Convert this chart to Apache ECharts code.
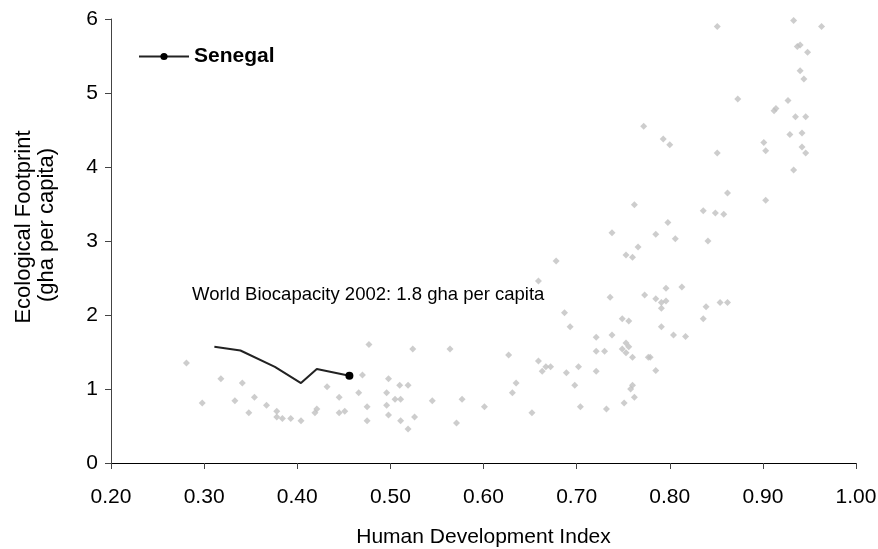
<!DOCTYPE html>
<html>
<head>
<meta charset="utf-8">
<title>Ecological Footprint vs HDI</title>
<script src="https://cdn.jsdelivr.net/npm/echarts@6/dist/echarts.min.js"></script>
<style>
    html, body { margin: 0; padding: 0; background: #fff; }
    #chart { width: 878px; height: 549px; }
</style>
</head>
<body>
<div id="chart"></div>
<script>
'use strict'

// countries (grey diamonds)
var countryHdi = [0.281,0.318,0.298,0.341,0.333,0.354,0.348,0.367,0.378,0.378,
    0.384,0.393,0.404,0.421,0.419,0.432,0.445,0.445,0.451,0.477,
    0.470,0.466,0.475,0.475,0.498,0.496,0.510,0.519,0.505,0.511,
    0.496,0.498,0.511,0.519,0.524,0.526,0.545,0.564,0.577,0.571,
    0.601,0.627,0.635,0.631,0.652,0.659,0.678,0.659,0.663,0.667,
    0.672,0.687,0.693,0.689,0.702,0.698,0.704,0.721,0.721,0.730,
    0.721,0.732,0.736,0.738,0.749,0.756,0.749,0.753,0.756,0.753,
    0.760,0.760,0.758,0.762,0.751,0.753,0.760,0.773,0.777,0.779,
    0.766,0.738,0.762,0.851,0.903,0.946,0.933,0.862,0.903,0.836,
    0.849,0.858,0.798,0.785,0.806,0.841,0.813,0.796,0.785,0.791,
    0.796,0.791,0.839,0.854,0.862,0.836,0.791,0.804,0.817,0.785,
    0.851,0.933,0.963,0.937,0.940,0.948,0.940,0.944,0.873,0.927,
    0.912,0.914,0.935,0.946,0.772,0.793,0.800,0.901,0.929,0.942,0.942];
var countryFootprint = [1.35,1.14,0.81,1.08,0.84,0.89,0.68,0.78,0.70,0.62,
    0.60,0.60,0.57,0.73,0.68,1.03,0.89,0.68,0.70,1.60,
    1.19,0.95,0.76,0.57,1.14,0.95,1.05,1.05,0.86,0.86,
    0.78,0.65,0.57,0.46,1.54,0.62,0.84,1.54,0.86,0.54,
    0.76,1.46,1.08,0.95,0.68,2.46,2.73,1.38,1.24,1.30,
    1.30,2.03,1.84,1.22,1.30,1.05,0.76,1.70,1.51,1.51,
    1.24,0.73,2.24,1.73,1.95,1.92,1.54,1.62,1.57,1.49,
    1.43,1.05,1.00,0.89,0.81,2.81,2.78,2.27,1.43,1.43,
    2.92,3.11,3.49,4.19,4.22,4.19,3.96,3.65,3.55,3.41,
    3.38,3.36,3.25,3.09,3.03,3.00,2.38,2.36,2.22,2.17,
    2.19,2.09,2.11,2.17,2.17,1.95,1.84,1.73,1.71,1.25,
    5.90,5.98,5.90,5.63,5.65,5.55,5.30,5.19,4.92,4.90,
    4.76,4.79,4.68,4.68,4.55,4.38,4.30,4.33,4.44,4.46,4.27];

// Senegal over time
var senegalHdi = [0.311, 0.339, 0.376, 0.404, 0.421, 0.456];
var senegalFootprint = [1.57, 1.52, 1.30, 1.08, 1.27, 1.18];

var xTicks = [0.2, 1.0, 0.1];
var yTicks = [0, 6, 1];

var FONT = 'Arial, "Liberation Sans", sans-serif';

var countryData = [];
for (var i = 0; i < countryHdi.length; i++) {
    countryData.push([countryHdi[i], countryFootprint[i]]);
}
var senegalData = [];
for (var j = 0; j < senegalHdi.length; j++) {
    var last = j == senegalHdi.length - 1;
    senegalData.push({
        value: [senegalHdi[j], senegalFootprint[j]],
        symbol: last ? 'circle' : 'none'
    });
}

var myChart = echarts.init(document.getElementById('chart'));

var option = {
    animation: false,
    backgroundColor: '#fff',
    grid: { left: 111, right: 22, top: 19, bottom: 86, outerBoundsMode: 'none' },
    legend: {
        data: ['Senegal'],
        left: 133,
        top: 41,
        itemWidth: 50,
        itemHeight: 9,
        itemGap: 5,
        textStyle: { fontFamily: FONT, fontSize: 21, fontWeight: 'bold', color: '#000' }
    },
    xAxis: {
        type: 'value',
        min: xTicks[0],
        max: xTicks[1],
        interval: xTicks[2],
        name: 'Human Development Index',
        nameLocation: 'middle',
        nameGap: 64,
        nameTextStyle: { fontFamily: FONT, fontSize: 21, color: '#000' },
        axisLine: { lineStyle: { color: '#000', width: 1 } },
        axisTick: { show: true, length: 6, lineStyle: { color: '#444' } },
        axisLabel: {
            fontFamily: FONT, fontSize: 21, color: '#000', margin: 24,
            formatter: function (v) { return v.toFixed(2); }
        },
        splitLine: { show: false }
    },
    yAxis: {
        type: 'value',
        min: yTicks[0],
        max: yTicks[1],
        interval: yTicks[2],
        axisLine: { show: true, lineStyle: { color: '#444', width: 1 } },
        axisTick: { show: true, length: 6, lineStyle: { color: '#444' } },
        axisLabel: { fontFamily: FONT, fontSize: 21, color: '#000', margin: 13 },
        splitLine: { show: false }
    },
    graphic: [
        {
            type: 'text',
            x: 24, y: 227,
            rotation: Math.PI / 2,
            style: {
                text: 'Ecological Footprint', fill: '#000',
                font: '22px ' + FONT, align: 'center', verticalAlign: 'middle'
            }
        },
        {
            type: 'text',
            x: 47, y: 225,
            rotation: Math.PI / 2,
            style: {
                text: '(gha per capita)', fill: '#000',
                font: '22px ' + FONT, align: 'center', verticalAlign: 'middle'
            }
        },
        {
            type: 'text',
            x: 192, y: 295,
            style: {
                text: 'World Biocapacity 2002: 1.8 gha per capita', fill: '#000',
                font: '18.5px ' + FONT, align: 'left', verticalAlign: 'middle'
            }
        }
    ],
    series: [
        {
            name: 'Countries',
            type: 'scatter',
            symbol: 'diamond',
            symbolSize: 7,
            itemStyle: { color: '#c0c0c0' },
            data: countryData,
            z: 2
        },
        {
            name: 'Senegal',
            type: 'line',
            symbol: 'circle',
            symbolSize: 8,
            showSymbol: true,
            lineStyle: { color: '#222', width: 2 },
            itemStyle: { color: '#000' },
            data: senegalData,
            z: 3
        }
    ]
};
myChart.setOption(option);
</script>
</body>
</html>
